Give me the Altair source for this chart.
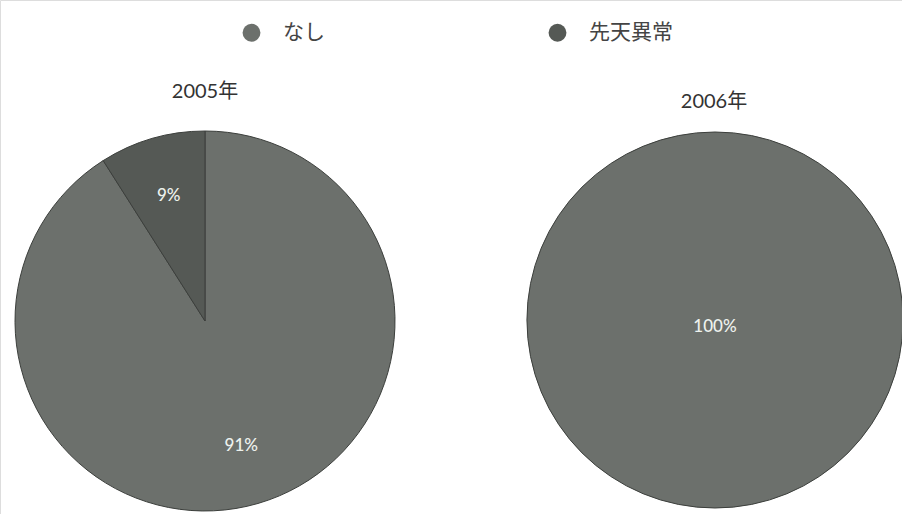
import altair as alt
import pandas as pd

categories = ["なし", "先天異常"]
years = ["2005年", "2006年"]
values_2005 = [91, 9]
values_2006 = [100, 0]
colors = ["#6c706c", "#555955"]

rows = []
for yr, vals in zip(years, [values_2005, values_2006]):
    for i, (c, v) in enumerate(zip(categories, vals)):
        if v > 0:
            rows.append({"year": yr, "cat": c, "idx": i, "value": v, "label": f"{v}%"})
df = pd.DataFrame(rows)

FONT = "Lato, 'Noto Sans CJK JP', sans-serif"
JP = "'Noto Sans CJK JP', sans-serif"

centers = {"2005年": (205, 321, 190), "2006年": (715, 320, 188)}
title_pos = {"2005年": (205, 92), "2006年": (714, 102)}

color = alt.Color(
    "cat:N",
    scale=alt.Scale(domain=categories, range=colors),
    legend=alt.Legend(
        title=None,
        orient="none",
        legendX=241,
        legendY=22,
        direction="horizontal",
        symbolType="circle",
        symbolSize=320,
        symbolOpacity=1,
        symbolStrokeWidth=0,
        labelFont=JP,
        labelFontSize=21,
        labelColor="#444444",
        labelOffset=21,
        columnPadding=222,
    ),
)

layers = []
for yr in years:
    cx, cy, r = centers[yr]
    base = alt.Chart(df).transform_filter(alt.datum.year == yr)
    arc = base.mark_arc(stroke="#3c3f3c", strokeWidth=1).encode(
        theta=alt.Theta("value:Q", stack=True, scale=alt.Scale(domain=[0, 100])),
        color=color,
        order=alt.Order("idx:Q"),
        x=alt.value(cx),
        y=alt.value(cy),
        radius=alt.value(r),
    )
    lbl_r = 130 if yr == "2005年" else 7
    txt = base.mark_text(
        font=FONT, fontSize=17, fontWeight=500, color="#eef2ee", align="center", baseline="middle"
    ).encode(
        theta=alt.Theta("value:Q", stack=True, scale=alt.Scale(domain=[0, 100])),
        order=alt.Order("idx:Q"),
        detail="cat:N",
        text="label:N",
        x=alt.value(cx),
        y=alt.value(cy),
        radius=alt.value(lbl_r),
    )
    tx, ty = title_pos[yr]
    title = (
        alt.Chart(df)
        .transform_filter(alt.datum.year == yr)
        .transform_aggregate(count="count()", groupby=["year"])
        .mark_text(font=FONT, fontSize=20, color="#333333", align="center", baseline="middle")
        .encode(text="year:N", x=alt.value(tx), y=alt.value(ty))
    )
    layers += [arc, txt, title]

chart = (
    alt.layer(*layers)
    .properties(width=902, height=514, autosize=alt.AutoSizeParams(type="none"), padding=0)
    .configure_view(stroke=None)
    .configure(background="white")
)

chart.save("out.html", embed_options={"renderer": "svg", "actions": False})
